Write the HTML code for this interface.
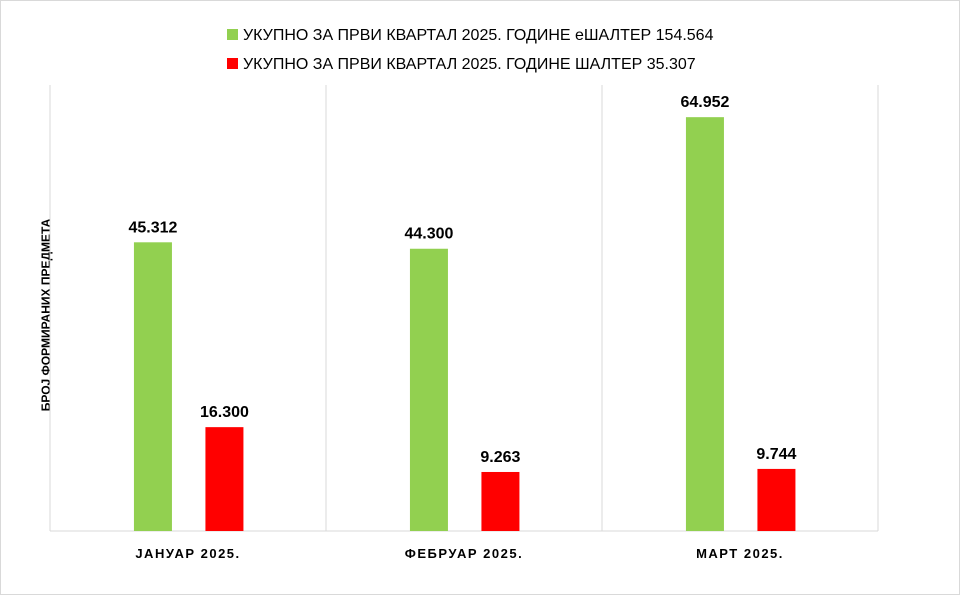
<!DOCTYPE html>
<html><head><meta charset="utf-8"><style>
body{margin:0;background:#fff}
svg{display:block;font-family:"Liberation Sans","DejaVu Sans",sans-serif}
</style></head><body>
<svg id="c" width="960" height="595">
<rect x="0.5" y="0.5" width="959" height="594" fill="#fff" stroke="#d9d9d9"/>
<g>
<rect x="227" y="29" width="11" height="11" fill="#92d050"/>
<text x="243" y="40" font-size="16" fill="#000">УКУПНО ЗА ПРВИ КВАРТАЛ 2025. ГОДИНЕ еШАЛТЕР 154.564</text>
<rect x="227" y="58" width="11" height="11" fill="#ff0000"/>
<text x="243" y="69" font-size="16" fill="#000">УКУПНО ЗА ПРВИ КВАРТАЛ 2025. ГОДИНЕ ШАЛТЕР 35.307</text>
</g>
<text transform="translate(50,315) rotate(-90)" text-anchor="middle" font-size="12" font-weight="bold">БРОЈ ФОРМИРАНИХ ПРЕДМЕТА</text>
<g id="plot"></g>
</svg>
<script>
const categories=["ЈАНУАР 2025.","ФЕБРУАР 2025.","МАРТ 2025."];
const eshalter=[45312,44300,64952];
const shalter=[16300,9263,9744];
const eshalterLabels=["45.312","44.300","64.952"];
const shalterLabels=["16.300","9.263","9.744"];
const yMax=70000;
const L=50,R=878,T=85,B=531;
const catW=(R-L)/categories.length;
const y=v=>B-(v/yMax)*(B-T);
const xc=i=>L+i*catW;
const NS="http://www.w3.org/2000/svg";
const g=document.getElementById('plot');
function mk(t,a){const e=document.createElementNS(NS,t);for(const k in a)e.setAttribute(k,a[k]);g.appendChild(e);return e;}
for(let i=0;i<=categories.length;i++){
 const ln=mk('line',{x1:xc(i),x2:xc(i),y1:T,y2:B,stroke:'#d9d9d9'});
 
 
}
const ax=mk('line',{x1:L,x2:R,y1:B,y2:B,stroke:'#d9d9d9'});


const bw=38;
categories.forEach((c,i)=>{
 const gx=xc(i)+catW*0.373-bw/2, rx=xc(i)+catW*0.632-bw/2;
 const b1=mk('rect',{x:gx,y:y(eshalter[i]),width:bw,height:B-y(eshalter[i]),fill:'#92d050'});
 
 
 const b2=mk('rect',{x:rx,y:y(shalter[i]),width:bw,height:B-y(shalter[i]),fill:'#ff0000'});
 
 
 const t1=mk('text',{x:gx+bw/2,y:y(eshalter[i])-10,'text-anchor':'middle','font-size':16,'font-weight':'bold'});
 t1.textContent=eshalterLabels[i];
 
 
 const t2=mk('text',{x:rx+bw/2,y:y(shalter[i])-10,'text-anchor':'middle','font-size':16,'font-weight':'bold'});
 t2.textContent=shalterLabels[i];
 
 
 const cl=mk('text',{x:xc(i)+catW/2,y:B+27,'text-anchor':'middle','font-size':13,'font-weight':'bold','letter-spacing':'1.5'});
 cl.textContent=c;
 
 
});
</script>
</body></html>
